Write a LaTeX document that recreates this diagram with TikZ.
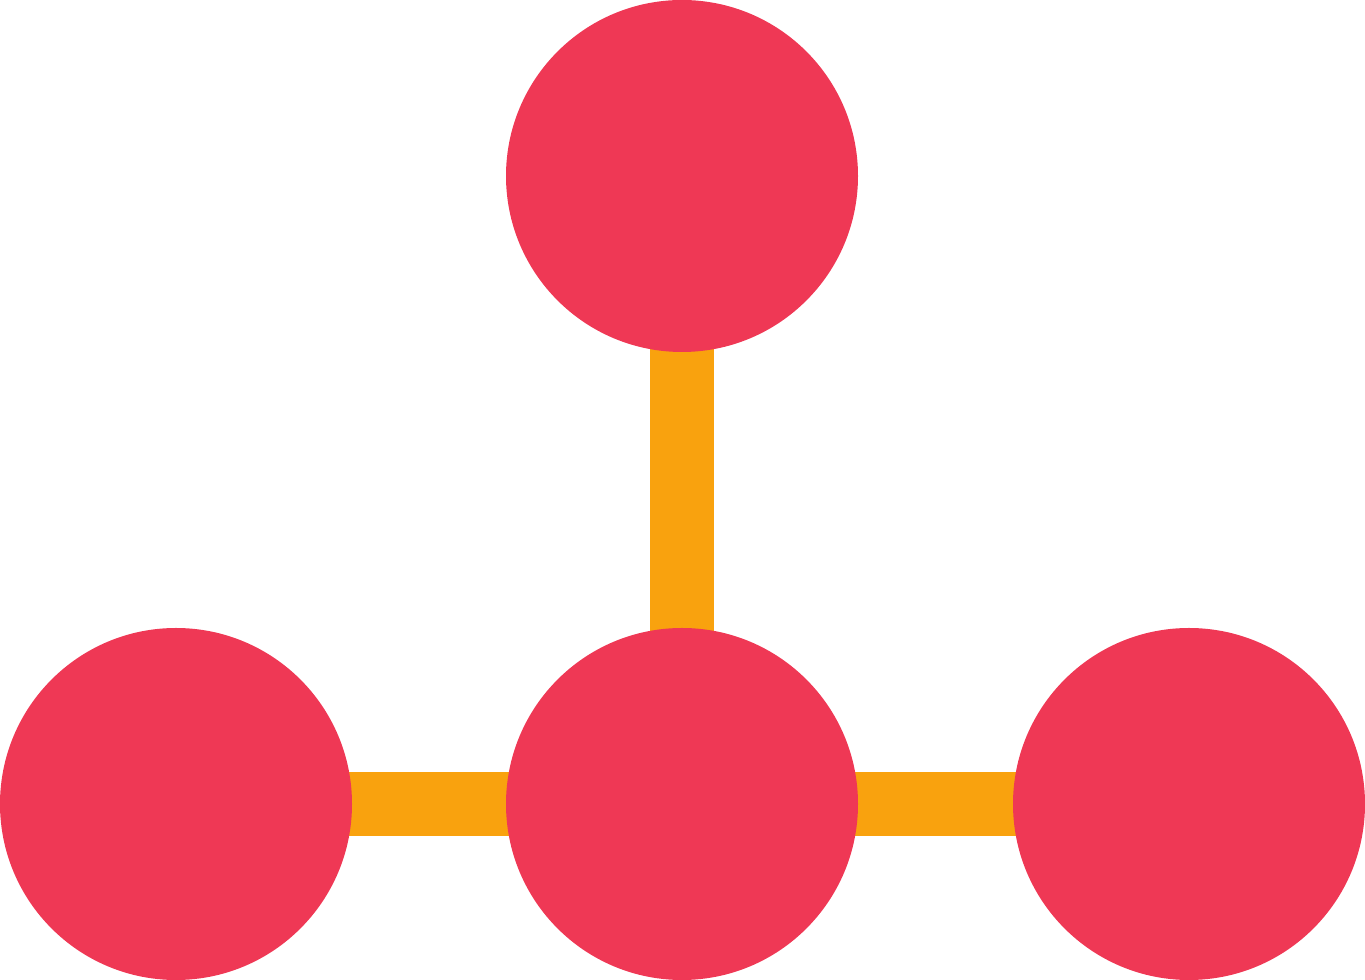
\documentclass[tikz,border=0pt]{standalone}
\usetikzlibrary{backgrounds}
\definecolor{dotred}{HTML}{EF3855}
\definecolor{barorange}{HTML}{F9A20E}
\begin{document}
\begin{tikzpicture}[
  dot/.style={circle,fill=dotred,draw=none,inner sep=0pt,minimum size=7.04cm},
  bar/.style={draw=barorange,line width=1.28cm}
]
\useasboundingbox (0,0) rectangle (27.3,19.6);
\node[dot] (top) at (13.64,16.08) {};
\node[dot] (center) at (13.64,3.52) {};
\node[dot] (left) at (3.52,3.52) {};
\node[dot] (right) at (23.78,3.52) {};
\begin{pgfonlayer}{background}
\draw[bar] (top.center) -- (center.center);
\draw[bar] (left.center) -- (right.center);
\end{pgfonlayer}
\end{tikzpicture}
\end{document}
